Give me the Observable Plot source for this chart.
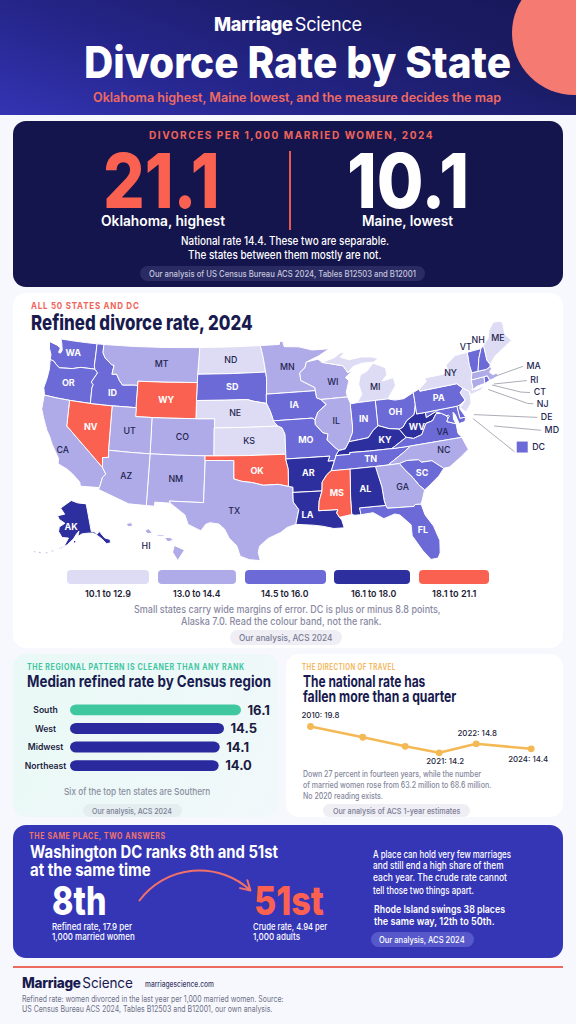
<!DOCTYPE html>
<html><head><meta charset="utf-8">
<script src="https://cdn.jsdelivr.net/npm/d3@7"></script>
<script src="https://cdn.jsdelivr.net/npm/@observablehq/plot@0.6"></script>
<style>
html,body{margin:0;padding:0;background:#f6f7fe}
#page{position:relative;width:576px;height:1024px;overflow:hidden;font-family:Inter,"Noto Sans",sans-serif;background:#f7f8fe}
.box{position:absolute}
.t{position:absolute;white-space:nowrap;line-height:1}
#page svg{overflow:visible;background:transparent;max-width:none}
</style></head><body><div id="page"></div>
<script>
// ---------- text content ----------
const heroNumbers = ["21.1", "10.1"];
const heroLabels = ["Oklahoma, highest", "Maine, lowest"];
const legendLabels = ["10.1 to 12.9", "13.0 to 14.4", "14.5 to 16.0", "16.1 to 18.0", "18.1 to 21.1"];
const bandColors = ["#dedcf4", "#aeabe8", "#6b6ad6", "#2e2f9e", "#fb6151"];
const bandBreaks = [13, 14.5, 16.1, 18.1];

// ---------- region bars ----------
const regions = ["South", "West", "Midwest", "Northeast"];
const regionRates = [16.1, 14.5, 14.1, 14.0];

// ---------- trend ----------
const trendYears = [2010, 2014, 2018, 2021, 2022, 2024];
const trendRates = [19.8, 16.7, 14.6, 14.2, 14.8, 14.4];
const trendLabels = ["2010: 19.8", "", "", "2021: 14.2", "2022: 14.8", "2024: 14.4"];

// ---------- rank swing ----------
const dcRanks = [8, 51];

// ---------- states ----------
const stateCodes = ["WA","OR","CA","NV","ID","MT","WY","UT","CO","AZ","NM","ND","SD","NE","KS","OK","TX","MN","IA","MO","AR","LA","WI","IL","MI","IN","OH","KY","TN","WV","VA","MD","DE","PA","NY","NJ","CT","RI","MA","VT","NH","ME","NC","SC","GA","FL","AL","MS","AK","HI"];
const stateRates = [15.8,15.2,13.8,19.6,15.6,14.2,19.0,13.7,14.0,14.1,14.3,12.4,15.4,12.1,12.6,21.1,13.9,13.5,15.0,15.3,17.4,17.0,14.0,13.6,12.8,15.1,14.9,17.2,15.5,17.8,14.7,14.9,15.2,14.7,11.9,12.2,13.5,15.0,13.3,15.4,14.6,10.1,13.9,15.0,14.2,14.8,16.8,18.8,17.6,13.4];
const dcRate = 15.9;
const stateRings = [
 [[[-124.7,48.38],[-124.5,47.6],[-124.05,46.9],[-124.05,46.27],[-123.4,46.2],[-122.85,45.85],[-122.3,45.55],[-121.2,45.65],[-120.2,45.72],[-119.3,45.93],[-118.98,46],[-116.92,46],[-117.04,46.42],[-117.03,47.5],[-117.03,49],[-118.5,49],[-120.5,49],[-122.76,49],[-122.5,48.5],[-122.25,47.7],[-122.45,47.3],[-122.8,47.35],[-122.6,47.9],[-123.2,48.15]]],
 [[[-124.05,46.27],[-123.95,45.2],[-124.15,44],[-124.5,42.85],[-124.2,42],[-122,42],[-120,42],[-117.03,42],[-117.03,43.8],[-116.9,44.2],[-117.2,44.45],[-116.47,45.6],[-116.92,46],[-118.98,46],[-119.3,45.93],[-120.2,45.72],[-121.2,45.65],[-122.3,45.55],[-122.85,45.85],[-123.4,46.2]]],
 [[[-124.2,42],[-122,42],[-120,42],[-120,39],[-114.63,35],[-114.14,34.3],[-114.5,33.9],[-114.72,32.72],[-117.12,32.53],[-117.3,33],[-118.4,33.75],[-119.2,34.15],[-120.6,34.55],[-120.65,35.15],[-121.9,36.6],[-122.5,37.5],[-123,38],[-123.8,39.3],[-124.35,40.3]]],
 [[[-120,42],[-117.03,42],[-114.04,42],[-114.04,36.2],[-114.74,36.1],[-114.63,35],[-120,39]]],
 [[[-117.03,49],[-116.05,49],[-116.05,48],[-115.7,47.45],[-114.7,46.7],[-114.35,46.65],[-114.5,45.6],[-113.9,45.65],[-113.45,44.95],[-113,44.45],[-111.5,44.55],[-111.05,44.48],[-111.05,42],[-114.04,42],[-117.03,42],[-117.03,43.8],[-116.9,44.2],[-117.2,44.45],[-116.47,45.6],[-116.92,46],[-117.04,46.42],[-117.03,47.5]]],
 [[[-116.05,49],[-112,49],[-108,49],[-104.05,49],[-104.05,45],[-108,45],[-111.05,45],[-111.05,44.48],[-111.5,44.55],[-113,44.45],[-113.45,44.95],[-113.9,45.65],[-114.5,45.6],[-114.35,46.65],[-114.7,46.7],[-115.7,47.45],[-116.05,48]]],
 [[[-111.05,45],[-108,45],[-104.05,45],[-104.05,41],[-107.5,41],[-109.05,41],[-111.05,41]]],
 [[[-114.04,42],[-111.05,42],[-111.05,41],[-109.05,41],[-109.05,37],[-111.5,37],[-114.04,37]]],
 [[[-109.05,41],[-107.5,41],[-104.05,41],[-102.05,41],[-102.05,40],[-102.05,37],[-103,37],[-106,37],[-109.05,37]]],
 [[[-114.04,37],[-111.5,37],[-109.05,37],[-109.05,31.33],[-111.07,31.33],[-114.81,32.5],[-114.72,32.72],[-114.5,33.9],[-114.14,34.3],[-114.63,35],[-114.74,36.1],[-114.04,36.2]]],
 [[[-109.05,37],[-106,37],[-103,37],[-103,36.5],[-103.05,32],[-106.62,32],[-106.53,31.78],[-108.2,31.78],[-108.2,31.33],[-109.05,31.33]]],
 [[[-104.05,49],[-100.5,49],[-97.23,49],[-96.85,47.5],[-96.56,45.94],[-100.5,45.94],[-104.05,45.94]]],
 [[[-104.05,45.94],[-100.5,45.94],[-96.56,45.94],[-96.45,45.3],[-96.45,43.5],[-96.45,42.49],[-97.9,42.8],[-98.5,43],[-101,43],[-104.05,43]]],
 [[[-104.05,43],[-101,43],[-98.5,43],[-97.9,42.8],[-96.45,42.49],[-96.1,41.7],[-95.9,41.1],[-95.77,40.58],[-95.31,40],[-98.5,40],[-102.05,40],[-102.05,41],[-104.05,41]]],
 [[[-102.05,40],[-98.5,40],[-95.31,40],[-94.9,39.8],[-94.61,39.1],[-94.62,37],[-98.5,37],[-102.05,37]]],
 [[[-103,37],[-102.05,37],[-98.5,37],[-94.62,37],[-94.62,36.5],[-94.43,35.4],[-94.48,33.64],[-95.5,33.9],[-97,33.85],[-98.1,34.15],[-99.2,34.3],[-100,34.56],[-100,36.5],[-103,36.5]]],
 [[[-106.62,32],[-103.05,32],[-103,36.5],[-100,36.5],[-100,34.56],[-99.2,34.3],[-98.1,34.15],[-97,33.85],[-95.5,33.9],[-94.48,33.64],[-94.04,33.55],[-94.04,33],[-94.04,31.99],[-93.53,31.2],[-93.85,29.7],[-94.7,29.4],[-95.3,28.9],[-96.5,28.3],[-97.3,27.5],[-97.4,26.8],[-97.15,25.96],[-98.2,26.05],[-99.1,26.4],[-99.5,27.5],[-100.3,28.3],[-100.8,29.25],[-101.4,29.77],[-102.3,29.88],[-102.7,29.7],[-103.15,28.98],[-104.5,29.6],[-104.9,30.6],[-106.53,31.78]]],
 [[[-97.23,49],[-95.15,49],[-95.15,49.38],[-94.8,49.3],[-94.6,48.7],[-93,48.55],[-91.5,48.05],[-89.6,48],[-90.8,47.3],[-92.1,46.75],[-92.3,46.1],[-92.85,45.6],[-92.75,44.75],[-91.25,43.85],[-91.22,43.5],[-96.45,43.5],[-96.45,45.3],[-96.56,45.94],[-96.85,47.5]]],
 [[[-96.45,43.5],[-91.22,43.5],[-91.1,42.7],[-90.64,42.5],[-90.15,41.9],[-91.05,41.2],[-91.4,40.4],[-91.7,40.6],[-95.77,40.58],[-95.9,41.1],[-96.1,41.7],[-96.45,42.49]]],
 [[[-95.77,40.58],[-91.7,40.6],[-91.4,40.4],[-91.4,39.9],[-90.7,39],[-90.15,38.8],[-90.3,38.2],[-89.5,37.3],[-89.15,37],[-89.5,36.5],[-89.7,36],[-90.37,36],[-90.15,36.5],[-94.62,36.5],[-94.62,37],[-94.61,39.1],[-94.9,39.8],[-95.31,40]]],
 [[[-94.62,36.5],[-90.15,36.5],[-90.37,36],[-89.7,36],[-90.1,35],[-90.6,34.6],[-91.1,33.9],[-91.17,33],[-94.04,33],[-94.04,33.55],[-94.48,33.64],[-94.43,35.4]]],
 [[[-94.04,33],[-91.17,33],[-91.5,32],[-91.6,31],[-89.73,31],[-89.85,30.65],[-89.6,30.2],[-89.4,29.9],[-89.2,29.1],[-90.2,29.1],[-91.3,29.4],[-92.2,29.55],[-93.85,29.7],[-93.53,31.2],[-94.04,31.99]]],
 [[[-92.1,46.75],[-90.85,46.95],[-90.4,46.55],[-88.1,45.9],[-87.6,45.1],[-87,45.3],[-87.9,44.6],[-87.55,44.2],[-87.9,43],[-87.8,42.49],[-90.64,42.5],[-91.1,42.7],[-91.22,43.5],[-91.25,43.85],[-92.75,44.75],[-92.85,45.6],[-92.3,46.1]]],
 [[[-90.64,42.5],[-87.8,42.49],[-87.53,41.72],[-87.53,39.35],[-87.6,38.7],[-88.05,37.8],[-88.5,37.1],[-89.15,37],[-89.5,37.3],[-90.3,38.2],[-90.15,38.8],[-90.7,39],[-91.4,39.9],[-91.4,40.4],[-91.05,41.2],[-90.15,41.9]]],
 [[[-86.8,41.76],[-84.8,41.76],[-83.45,41.73],[-83.1,42.2],[-82.45,43],[-82.6,43.9],[-83.9,43.7],[-83.3,44.3],[-83.4,45.1],[-84.75,45.78],[-85.5,45],[-86.25,44.7],[-86.5,43.7],[-86.25,42.6]],[[-90.4,46.55],[-89,46.95],[-88.4,47.4],[-87.9,47.45],[-88.4,46.9],[-87.4,46.5],[-86,46.65],[-84.9,46.5],[-84.1,46.2],[-84.7,45.9],[-86,45.95],[-87,45.7],[-87.6,45.1],[-88.1,45.9]]],
 [[[-87.53,41.72],[-86.8,41.76],[-84.8,41.76],[-84.82,39.1],[-85.4,38.7],[-86,38],[-87,37.9],[-88.05,37.8],[-87.6,38.7],[-87.53,39.35]]],
 [[[-84.8,41.76],[-83.45,41.73],[-82.7,41.5],[-81.7,41.5],[-80.52,42],[-80.52,40.64],[-80.8,39.7],[-81.7,39.2],[-82.2,38.6],[-82.6,38.45],[-83.7,38.65],[-84.82,39.1]]],
 [[[-89.15,37],[-88.5,37.1],[-88.05,37.8],[-87,37.9],[-86,38],[-85.4,38.7],[-84.82,39.1],[-83.7,38.65],[-82.6,38.45],[-82,37.53],[-83.68,36.6],[-86,36.63],[-88.07,36.68],[-88.07,36.5],[-89.5,36.5]]],
 [[[-90.1,35],[-89.7,36],[-89.5,36.5],[-88.07,36.5],[-88.07,36.68],[-86,36.63],[-83.68,36.6],[-81.68,36.59],[-82.6,36],[-84.3,35],[-85.6,35],[-88.2,35]]],
 [[[-82.6,38.45],[-82.2,38.6],[-81.7,39.2],[-80.8,39.7],[-80.52,40.64],[-80.52,39.72],[-79.48,39.72],[-79.48,39.2],[-78.4,39.6],[-77.75,39.32],[-78.35,39.4],[-78.87,38.76],[-79.65,38.6],[-80.3,37.55],[-81.25,37.3],[-82,37.53]]],
 [[[-83.68,36.6],[-82,37.53],[-81.25,37.3],[-80.3,37.55],[-79.65,38.6],[-78.87,38.76],[-78.35,39.4],[-77.75,39.32],[-77.12,38.93],[-77.04,38.79],[-77.3,38.4],[-76.3,38],[-76.3,37],[-75.95,36.55],[-81.68,36.59]]],
 [[[-79.48,39.72],[-75.79,39.72],[-75.7,38.46],[-75.05,38.45],[-75.25,38.03],[-75.95,37.95],[-76.2,38.9],[-76.4,39.2],[-76.5,38.5],[-76.3,38],[-77.3,38.4],[-77.04,38.79],[-77.12,38.93],[-77.75,39.32],[-78.4,39.6],[-79.48,39.2]]],
 [[[-75.79,39.72],[-75.42,39.8],[-75.55,39.4],[-75.05,38.45],[-75.7,38.46]]],
 [[[-80.52,42],[-79.76,42.27],[-79.76,42],[-75.35,42],[-74.7,41.36],[-75.13,40.97],[-74.72,40.15],[-75.42,39.8],[-75.79,39.72],[-79.48,39.72],[-80.52,39.72],[-80.52,40.64]]],
 [[[-79.76,42.27],[-78.9,42.9],[-79.05,43.27],[-76.8,43.3],[-76.2,43.55],[-76.3,44.2],[-75,44.98],[-73.35,45.01],[-73.4,43.6],[-73.27,42.75],[-73.5,42.05],[-73.5,41.3],[-73.65,41],[-73.2,40.95],[-72,41.1],[-72.6,40.75],[-73.9,40.58],[-74.05,40.95],[-74.7,41.36],[-75.35,42],[-79.76,42]]],
 [[[-74.7,41.36],[-74.05,40.95],[-74,40.4],[-74.1,39.7],[-74.9,38.95],[-75.5,39.5],[-74.72,40.15],[-75.13,40.97]]],
 [[[-73.5,42.05],[-71.8,42.02],[-71.85,41.32],[-72.9,41.25],[-73.65,41],[-73.5,41.3]]],
 [[[-71.8,42.02],[-71.38,42.02],[-71.2,41.5],[-71.85,41.32]]],
 [[[-73.5,42.05],[-73.27,42.75],[-72.45,42.73],[-71.3,42.7],[-70.8,42.87],[-70.6,42.65],[-71,42.3],[-70.6,41.95],[-70.1,42.05],[-70,41.7],[-70.7,41.55],[-71.2,41.5],[-71.38,42.02],[-71.8,42.02]]],
 [[[-73.35,45.01],[-71.5,45.01],[-72.05,44],[-72.45,42.73],[-73.27,42.75],[-73.4,43.6]]],
 [[[-71.5,45.01],[-71.08,45.3],[-71,43.6],[-70.7,43.07],[-70.8,42.87],[-71.3,42.7],[-72.45,42.73],[-72.05,44]]],
 [[[-71.08,45.3],[-70.3,45.9],[-70,46.7],[-69.2,47.45],[-68.3,47.35],[-67.8,47.07],[-67.8,45.7],[-67,44.85],[-68.5,44.3],[-69.8,43.8],[-70.7,43.07],[-71,43.6]]],
 [[[-84.3,35],[-82.6,36],[-81.68,36.59],[-75.95,36.55],[-75.5,35.25],[-76.5,34.65],[-77.9,33.9],[-78.55,33.86],[-79.67,34.8],[-80.8,34.82],[-81.05,35.1],[-82.3,35.2],[-83.1,35]]],
 [[[-83.1,35],[-82.3,35.2],[-81.05,35.1],[-80.8,34.82],[-79.67,34.8],[-78.55,33.86],[-79.2,33.2],[-80.5,32.3],[-80.9,32.05],[-81.4,32.6],[-81.9,33.4],[-82.7,34.4]]],
 [[[-85.6,35],[-84.3,35],[-83.1,35],[-82.7,34.4],[-81.9,33.4],[-81.4,32.6],[-80.9,32.05],[-81.2,31.3],[-81.45,30.7],[-82.05,30.75],[-82.2,30.57],[-84.86,30.7],[-85,31],[-85.1,31.5],[-85.18,32.87]]],
 [[[-87.6,31],[-85,31],[-84.86,30.7],[-82.2,30.57],[-82.05,30.75],[-81.45,30.7],[-81.2,29.6],[-80.5,28.4],[-80.05,26.9],[-80.15,25.7],[-80.4,25.2],[-81.1,25.15],[-81.8,26.1],[-82.7,27.7],[-82.7,28.8],[-83.7,29.9],[-84.2,30.05],[-85.3,29.7],[-86.3,30.4],[-87.5,30.3]]],
 [[[-88.2,35],[-85.6,35],[-85.18,32.87],[-85.1,31.5],[-85,31],[-87.6,31],[-87.5,30.3],[-88.1,30.3],[-88.4,30.4],[-88.4,31.9]]],
 [[[-90.1,35],[-88.2,35],[-88.4,31.9],[-88.4,30.4],[-89.6,30.2],[-89.85,30.65],[-89.73,31],[-91.6,31],[-91.5,32],[-91.17,33],[-91.1,33.9],[-90.6,34.6]]],
 [[[-141,69.6],[-141,60.3],[-139,60],[-137.5,58.9],[-135.5,59.7],[-133,57],[-130,55.9],[-130.5,54.8],[-133,55],[-135,57],[-137,58.3],[-140,59.7],[-144,60],[-148,60],[-151,59.2],[-150,61],[-152,60],[-154,58.5],[-158,56.5],[-162,55],[-164.5,54.6],[-160,56],[-157.5,58.7],[-162,58.7],[-165,60.5],[-165,62],[-161,63.5],[-166,64.5],[-168,65.6],[-162,66.5],[-166.5,68.3],[-156.5,71.3],[-150,70.5]],[[-167.5,53.9],[-166.5,54],[-166.2,53.6],[-167.2,53.4]],[[-170.5,52.9],[-169.5,52.9],[-169.6,52.5],[-170.5,52.5]],[[-174.5,52.3],[-173.2,52.3],[-173.2,52],[-174.5,51.9]],[[-177.5,51.9],[-176.3,52],[-176.3,51.6],[-177.5,51.6]],[[-153.9,57.9],[-152.4,58],[-152.6,57.3],[-153.9,57]]],
 [[[-159.8,22.15],[-159.4,22.25],[-159.3,21.95],[-159.65,21.88]],[[-158.28,21.57],[-157.98,21.72],[-157.68,21.3],[-158.1,21.3]],[[-157.3,21.22],[-156.75,21.18],[-156.75,21.05],[-157.3,21.08]],[[-156.7,20.95],[-156.25,20.95],[-155.98,20.72],[-156.42,20.58]],[[-155.9,20.25],[-155.1,19.85],[-155.65,18.95],[-156.05,19.65]]]
];

// ---------- label placement, in map coordinates ----------
const labelAnchors = {WA:[-120.4,47.5],ID:[-114.2,43.4],MT:[-108.4,47],MI:[-84.7,43.2],LA:[-92.7,30.6],FL:[-81.6,28.1],VT:[-73.5,45.6],NH:[-71.7,46],ME:[-68.9,45.6],NY:[-75.9,43.2],VA:[-78,37.4],MN:[-94.2,46.3],CA:[-120.2,36.2],TX:[-99.9,31.2],OK:[-97.6,35.3],MD:null,DE:null,MA:null,RI:null,CT:null,NJ:null,HI:[-158.2,20.2],AK:[-155.9,62.4],KY:[-84.3,37.5],TN:[-86,35.8],NC:[-78.2,35.6],WV:[-80.7,38.4],SC:[-80.9,33.7],GA:[-83.1,32.6],WI:[-89.3,44.2]};
const calloutCodes = ["MA","RI","CT","NJ","DE","MD"];
const calloutPaths = [
 [[-70.2,41.75],[-66.3,41.8]],
 [[-70.7,41.0],[-66.3,40.3]],
 [[-71,40.95],[-67.5,39.4],[-66.3,39.05]],
 [[-71.6,40.6],[-67,38.1],[-66.3,37.9]],
 [[-74,38.5],[-66.3,36.5]],
 [[-71.9,36.9],[-66.3,35.2]],
 [[-74.2,38.1],[-70.3,34.0]]
];
const dcSwatch = [-69.2,34.2];

// registration of geography to the drawing: [lon, lat, across, down]
const mapLandmarks = [
 [-124.7,48.38,45,340],[-117.03,49,99,345],[-124.2,42,39,396],[-117.03,42,93.3,401.7],[-114.04,42,113.3,406.7],
 [-114.63,35,101,466.7],[-120,39,68.3,426.7],[-117.12,32.53,93,483],[-124.35,40.3,35,410],[-114.81,32.5,99,487],
 [-111.05,41,137.7,415],[-114.04,37,110,451],[-109.05,37,150,453.3],[-109.05,31.33,145.7,505],[-111.05,45,139.3,379.3],
 [-104.05,45,199,382.3],[-104.05,41,197.3,416.7],[-102.05,41,210.7,418.3],[-102.05,37,210.7,454],[-103.05,32,203.3,503.3],
 [-103,36.5,204.3,461.7],[-100,36.5,229,462.7],[-100,34.56,229.3,479.3],[-94.48,33.64,287.3,489],[-94.62,37,286,454],
 [-95.31,40,278.3,425],[-102.05,40,210.7,426],[-104.05,43,199.3,399.3],[-96.45,42.49,268.3,400],[-104.05,45.94,200,373.3],
 [-96.56,45.94,266.7,372.3],[-104.05,49,200,346],[-97.23,49,262.7,345],[-116.05,49,108.3,344],[-106.53,31.78,163.3,503.3],
 [-103.15,28.98,200,530],[-97.15,25.96,256.7,563],[-93.85,29.7,291.7,523],[-90.15,36.5,328,456.7],[-91.7,40.6,308,420],
 [-96.45,43.5,269.3,394],[-91.22,43.5,315,390.7],[-95.15,49.38,278.3,340],[-89.6,48,325,347.7],[-90.85,46.95,306.7,361.7],
 [-87.53,41.72,354,403.3],[-89.15,37,333.3,446.7],[-84.8,41.76,377.3,400],[-80.52,42,411.7,390],[-84.82,39.1,380,423.3],
 [-84.75,45.78,363,365],[-82.6,43.9,395,380],[-90.4,46.55,325,361.7],[-84.1,46.2,375,358],[-75.35,42,456.7,384],
 [-75.42,39.8,465,405],[-80.52,39.72,415,412.7],[-73.35,45.01,461.7,350.7],[-79.76,42.27,416.7,386.7],[-71.08,45.3,483.3,343.3],
 [-69.2,47.45,498.3,320.7],[-67,44.85,515,340],[-70.7,43.07,485,368],[-70,41.7,501.7,373.3],[-73.27,42.75,470,375],
 [-73.65,41,473.3,389.3],[-74.9,38.95,463.3,410],[-75.95,36.55,465,435.7],[-83.68,36.6,400,445],[-75.5,35.25,470.7,448.3],
 [-77.9,33.9,456.7,465],[-84.3,35,393.3,464.3],[-80.9,32.05,425,490],[-81.45,30.7,423.3,506.7],[-85.6,35,378.3,466.7],
 [-84.86,30.7,385,508.3],[-80.4,25.2,440,556.7],[-87.5,30.3,358.3,511.7],[-82.7,27.7,415,533.3],[-88.2,35,350,469],
 [-88.1,30.3,353.3,513],[-90.1,35,326.7,472.7],[-91.6,31,318,510],[-94.04,33,291,493.3],[-89.2,29.1,343.3,527],[-89.5,36.5,336.7,453.3],
 [-66.3,41.8,528,364],[-66.3,40.3,528,379],[-66.3,39.05,528,392],[-66.3,37.9,528,404],[-66.3,36.6,528,417],[-66.3,35.3,528,430],[-70.8,34.7,512,447]
];

// ---------- helpers ----------
const page = document.getElementById("page");
function box(x,y,w,h,style){const d=document.createElement("div");d.className="box";d.style.cssText=`left:${x}px;top:${y}px;width:${w}px;height:${h}px;${style||""}`;page.appendChild(d);return d;}
function T(txt,x,cy,size,weight,color,opt={}){
 const d=document.createElement("div");d.className="t";
 const tx=opt.anchor==="middle"?"-50%":"0";
 d.style.cssText=`left:${x}px;top:${cy}px;font-size:${size}px;font-weight:${weight};color:${color};letter-spacing:${opt.ls||0}px;line-height:${opt.lh||1};transform-origin:0 50%;`;
 d.innerHTML=txt;page.appendChild(d);
 const s=opt.w?opt.w/d.getBoundingClientRect().width:1;
 d.style.transform=`translate(${tx},-50%) scaleX(${s})`;
 return d;
}
function pill(txt,x0,x1,y0,y1,bg,color,size,tx,tw){
 box(x0,y0,x1-x0,y1-y0,`background:${bg};border-radius:${(y1-y0)/2}px`);
 T(txt,tx,(y0+y1)/2,size,500,color,{w:tw});
}
function brand(x,cy,size,color,w){
 T(`<span style="font-weight:800;letter-spacing:-.02em">Marriage</span><span style="font-weight:400;margin-left:.12em;letter-spacing:-.01em">Science</span>`,x,cy,size,400,color,{w});
}
function put(svg,x,y,w,h){const d=box(x,y,w,h);d.appendChild(svg);svg.style.position="absolute";svg.style.left="0";svg.style.top="0";}

// ---------- header ----------
box(0,0,576,115,"background:linear-gradient(20deg,#3434b4 0%,#25258a 35%,#1a1b62 75%,#17185a 100%);overflow:hidden");
const sun=box(0,0,576,115,"overflow:hidden");
const sunDot=document.createElement("div");sunDot.style.cssText="position:absolute;left:512px;top:-29px;width:124px;height:124px;border-radius:50%;background:#f47a72";sun.appendChild(sunDot);
brand(214,24,19,"#fff",148);
T("Divorce Rate by State",84,62,44,800,"#fff",{w:427});
T("Oklahoma highest, Maine lowest, and the measure decides the map",93,98,12.7,600,"#ee6a62",{w:408});

// ---------- hero ----------
box(13,121,550,166,"background:#14154d;border-radius:13px");
T("DIVORCES PER 1,000 MARRIED WOMEN, 2024",149,135,10.2,700,"#f0645a",{ls:1.55,w:285});
T(heroNumbers[0],103,180,76,800,"#fb6151",{w:116.5,lh:.75});
T(heroNumbers[1],347,180,76,800,"#fff",{w:122,lh:.75});
box(289,151,1.5,79,"background:#e8594f");
T(heroLabels[0],101,221,14.2,600,"#fff",{w:124});
T(heroLabels[1],362,221,14.2,600,"#fff",{w:91});
T("National rate 14.4. These two are separable.",181,242,11.2,500,"#fff",{w:208});
T("The states between them mostly are not.",187.5,255.5,11.2,500,"#fff",{w:193.5});
pill("Our analysis of US Census Bureau ACS 2024, Tables B12503 and B12001",140,425,266,281,"#2a2b63","#c5c6df",8.7,149,267);

// ---------- map card ----------
box(13,293,550,355,"background:#fff;border-radius:13px");
T("ALL 50 STATES AND DC",30.7,306,9.3,700,"#f0645a",{ls:.9,w:108.6});
T("Refined divorce rate, 2024",30.7,323,20.5,800,"#191b4f",{w:221.6});

// planar projection: a least-squares cubic registered on the landmarks, plus fitted insets
const mapTop = 315;
const basis=(lon,lat)=>{const u=(lon+96)/30,v=(lat-38)/12;return [1,u,v,u*u,u*v,v*v,u*u*u,u*u*v,u*v*v,v*v*v];};
function solve(A,b){
 const n=b.length,M=A.map((r,i)=>[...r,b[i]]);
 for(let c=0;c<n;c++){
  let p=c;for(let r=c+1;r<n;r++)if(Math.abs(M[r][c])>Math.abs(M[p][c]))p=r;
  [M[c],M[p]]=[M[p],M[c]];
  for(let r=0;r<n;r++)if(r!==c){const f=M[r][c]/M[c][c];for(let k=c;k<=n;k++)M[r][k]-=f*M[c][k];}
 }
 return M.map((r,i)=>r[n]/r[i]);
}
function regress(col){
 const X=mapLandmarks.map(l=>basis(l[0],l[1])),n=X[0].length;
 const A=d3.range(n).map(i=>d3.range(n).map(j=>d3.sum(X,r=>r[i]*r[j])+(i===j?1e-6:0)));
 const b=d3.range(n).map(i=>d3.sum(X,(r,k)=>r[i]*mapLandmarks[k][col]));
 return solve(A,b);
}
const cx=regress(2),cy=regress(3);
const fLower=(lon,lat)=>{const r=basis(lon,lat);return [d3.sum(r,(t,i)=>t*cx[i]),d3.sum(r,(t,i)=>t*cy[i])-mapTop];};
function fit(rings,proj,b){
 const pts=rings.flat(2).map(p=>proj(p));
 const [x0,x1]=d3.extent(pts,p=>p[0]),[y0,y1]=d3.extent(pts,p=>p[1]);
 return (lon,lat)=>{const p=proj([lon,lat]);return [b[0]+(p[0]-x0)/(x1-x0)*(b[2]-b[0]),b[1]+(p[1]-y0)/(y1-y0)*(b[3]-b[1])];};
}
const fAK=fit([stateRings[stateCodes.indexOf("AK")]],d3.geoConicEqualArea().parallels([55,65]).rotate([154,0]),[33,185,110,238]);
const fHI=fit([stateRings[stateCodes.indexOf("HI")]],d3.geoConicEqualArea().parallels([8,18]).rotate([157,0]),[126,207,184,245]);
const mapProjection=d3.geoTransform({point(lon,lat){
 const p= lat>50&&lon<-129?fAK(lon,lat): lat<23&&lon<-150?fHI(lon,lat):fLower(lon,lat);
 this.stream.point(p[0],p[1]);
}});
const features=stateCodes.map((code,i)=>({type:"Feature",code,rate:stateRates[i],
  geometry:{type:"MultiPolygon",coordinates:stateRings[i].map(r=>[[...r,r[0]]])}}));
const dcFeature={type:"Feature",code:"DC",rate:dcRate,geometry:{type:"MultiPolygon",coordinates:[[[[-77.2,38.95],[-77.02,39.03],[-76.88,38.89],[-77.04,38.76],[-77.2,38.95]]]]}};
const labels=stateCodes.map((code,i)=>{
  if(labelAnchors[code]===null) return null;
  const a=labelAnchors[code]||d3.polygonCentroid(stateRings[i][0]);
  return {code,rate:stateRates[i],lon:a[0],lat:a[1]};
}).filter(Boolean);
const isLight=d=>d.rate<14.5||d.code==="VA"||d.code==="VT"||d.code==="NH";
const calloutRows=calloutPaths.flatMap((path,k)=>path.map(p=>({k,lon:p[0],lat:p[1]})));
const calloutEnds=calloutCodes.map((code,k)=>{const p=calloutPaths[k][calloutPaths[k].length-1];return {code,lon:p[0],lat:p[1]};});

const mapPlot=Plot.plot({
 width:576,height:250,margin:0,
 projection:mapProjection,
 style:{fontFamily:"Inter",background:"transparent"},
 color:{type:"threshold",domain:bandBreaks,range:bandColors},
 marks:[
  Plot.geo(features.concat([dcFeature]),{fill:d=>d.rate,stroke:"#fff",strokeWidth:1}),
  Plot.line(calloutRows,{x:"lon",y:"lat",z:"k",stroke:"#a3a3ae",strokeWidth:.9,curve:"linear"}),
  Plot.dot([{lon:dcSwatch[0],lat:dcSwatch[1],rate:dcRate}],{x:"lon",y:"lat",fill:"rate",symbol:"square",r:6.2}),
  Plot.text(labels.filter(isLight),{x:"lon",y:"lat",text:"code",fill:"#23244f",fontSize:8.8,fontWeight:500}),
  Plot.text(labels.filter(d=>!isLight(d)),{x:"lon",y:"lat",text:"code",fill:"#fff",fontSize:9,fontWeight:700}),
  Plot.text(calloutEnds,{x:"lon",y:"lat",text:"code",dx:4,textAnchor:"start",fill:"#23244f",fontSize:8.8,fontWeight:500}),
  Plot.text([{lon:dcSwatch[0],lat:dcSwatch[1]}],{x:"lon",y:"lat",text:()=>"DC",dx:10,textAnchor:"start",fill:"#23244f",fontSize:8.8,fontWeight:500})
 ]
});
put(mapPlot,0,mapTop,576,250);

// legend
const swatchX=[[67,148.5],[157.7,235.7],[245,325.7],[334,410],[419,488.6]];
const legendTextX=[[85.3,46],[172.8,47.4],[261.4,47.4],[351,45.3],[431.6,44.5]];
legendLabels.forEach((l,i)=>{
 box(swatchX[i][0],570,swatchX[i][1]-swatchX[i][0],14,`background:${bandColors[i]};border-radius:4px`);
 T(l,legendTextX[i][0],593.5,9.6,600,"#1c1d33",{w:legendTextX[i][1]});
});
T("Small states carry wide margins of error. DC is plus or minus 8.8 points,",133.5,609,10,500,"#8a8aa3",{w:306.6});
T("Alaska 7.0. Read the colour band, not the rank.",181,621,10,500,"#8a8aa3",{w:200.6});
pill("Our analysis, ACS 2024",230,342,630,645,"#eeeef4","#7b7b95",8.7,239,93.5);

// ---------- region card ----------
box(13,654,265,163,"background:linear-gradient(120deg,#e9f9f5,#f1f8fb);border-radius:13px");
T("THE REGIONAL PATTERN IS CLEANER THAN ANY RANK",27.3,667,8.4,700,"#3fc6a0",{ls:.72,w:217.7});
T("Median refined rate by Census region",27,682,15.5,700,"#191b4f",{w:244});
const regionPlot=Plot.plot({
 width:290,height:85,margin:0,
 style:{fontFamily:"Inter",background:"transparent"},
 x:{domain:[0,16.1],range:[70,241],axis:null},
 y:{domain:regions,range:[1.75,83.75],padding:.415,round:false,axis:null},
 color:{type:"identity"},
 marks:[
  Plot.barX(regions,{y:d=>d,x1:0,x2:(d,i)=>regionRates[i],fill:d=>d==="South"?"#3fc8a0":"#2a2a9e",rx:6}),
  Plot.text(regions,{y:d=>d,x:0,dx:-25,text:d=>d,textAnchor:"middle",fontSize:8.6,fontWeight:600,fill:"#1b1c40"}),
  Plot.text(regions,{y:d=>d,x:(d,i)=>regionRates[i],dx:6,text:(d,i)=>regionRates[i].toFixed(1),textAnchor:"start",fontSize:13,fontWeight:700,fill:"#1b1c40"})
 ]
});
put(regionPlot,0,695,290,85);
T("Six of the top ten states are Southern",63.7,792,9.5,500,"#8a8f9f",{w:146.3});
pill("Our analysis, ACS 2024",83,182,804,817,"#e4edf0","#7b7f95",8,92,80);

// ---------- trend card ----------
box(286,654,277,163,"background:#fff;border-radius:13px");
T("THE DIRECTION OF TRAVEL",301.7,667,8.4,700,"#f3b95f",{ls:.6,w:93.6});
T("The national rate has",302.5,682,15.3,700,"#191b4f",{w:122.3});
T("fallen more than a quarter",302.5,697,15.3,700,"#191b4f",{w:153.3});
const trend=trendYears.map((year,i)=>({year,rate:trendRates[i],label:trendLabels[i]}));
const labelNudge={2010:[10,-11],2021:[6,9],2022:[1,-10],2024:[-3,11]};
const yearSpacing=d3.scaleLinear().domain(trendYears).range([24,76.3,118.7,152.7,189.7,244.7]);
const rateSpacing=d3.scaleLinear().domain([14.2,14.4,14.8,19.8]).range([52.3,48.3,43.3,26]);
const trendPlot=Plot.plot({
 width:277,height:75,margin:0,
 style:{fontFamily:"Inter",background:"transparent"},
 x:{transform:yearSpacing,domain:[0,277],range:[0,277],axis:null},
 y:{transform:rateSpacing,domain:[0,75],range:[0,75],axis:null},
 marks:[
  Plot.line(trend,{x:"year",y:"rate",stroke:"#f4b955",strokeWidth:2.5}),
  Plot.dot(trend,{x:"year",y:"rate",fill:"#f4b955",r:3.4}),
  ...trend.filter(d=>d.label).map(d=>Plot.text([d],{x:"year",y:"rate",text:"label",dx:labelNudge[d.year][0],dy:labelNudge[d.year][1],fontSize:7.9,fontWeight:500,fill:"#1e1f3c"}))
 ]
});
put(trendPlot,286,700,277,75);
T("Down 27 percent in fourteen years, while the number",302.5,774,9.1,500,"#85889c",{w:178});
T("of married women rose from 63.2 million to 68.6 million.",302.5,785,9.1,500,"#85889c",{w:188.3});
T("No 2020 reading exists.",302.5,795.5,9.1,500,"#85889c",{w:80});
pill("Our analysis of ACS 1-year estimates",323,470,804,817,"#eeeef4","#7b7b95",8,332.7,127.3);

// ---------- DC panel ----------
box(13,825,550,133,"background:#3536b6;border-radius:13px");
T("THE SAME PLACE, TWO ANSWERS",28.7,836,8.4,700,"#f0746c",{ls:.72,w:136.7});
T("Washington DC ranks 8th and 51st",30,852,17,700,"#fff",{w:248});
T("at the same time",30,869.5,17,700,"#fff",{w:120.7});
T("8th",52.2,901,40,800,"#fff",{w:54.4,lh:.8});
T("51st",253.7,901,40,800,"#fb6151",{w:69.9,lh:.8});
T("Refined rate, 17.9 per",51.5,927,9.4,500,"#fff",{w:80});
T("1,000 married women",51.5,937,9.4,500,"#fff",{w:82.7});
T("Crude rate, 4.94 per",253,927,9.4,500,"#fff",{w:74.3});
T("1,000 adults",253,937,9.4,500,"#fff",{w:47});
const rankPlot=Plot.plot({
 width:130,height:50,margin:0,
 style:{background:"transparent"},
 x:{domain:dcRanks,range:[9,120],axis:null},
 y:{domain:[0,1],range:[40,30],axis:null},
 marks:[Plot.arrow([dcRanks],{x1:d=>d[0],x2:d=>d[1],y1:()=>0,y2:()=>1,bend:48,stroke:"#f0706a",strokeWidth:2,headLength:8})]
});
put(rankPlot,130,860,130,50);
const sideLines=["A place can hold very few marriages","and still end a high share of them","each year. The crude rate cannot","tell those two things apart."];
const sideW=[138,130.5,134,101];
sideLines.forEach((l,i)=>T(l,373,[854,865,877,889.5][i],10,500,"#fff",{w:sideW[i]}));
T("Rhode Island swings 38 places",373.5,910,10.5,600,"#fff",{w:131});
T("the same way, 12th to 50th.",373.5,921.5,10.5,600,"#fff",{w:120.6});
pill("Our analysis, ACS 2024",370.5,474,932,947,"#5759cb","#fff",8.8,379.4,85.6);

// ---------- footer ----------
box(13,966,550,2,"background:#ee6a5f");
brand(21.7,983,14.2,"#191b4f",110.7);
T("marriagescience.com",145,985,7.8,500,"#3a3a66",{w:69});
T("Refined rate: women divorced in the last year per 1,000 married women. Source:",21.7,999,8.3,400,"#6e7085",{w:261.4});
T("US Census Bureau ACS 2024, Tables B12503 and B12001, our own analysis.",21.7,1009,8.3,400,"#6e7085",{w:250.4});
</script></body></html>
